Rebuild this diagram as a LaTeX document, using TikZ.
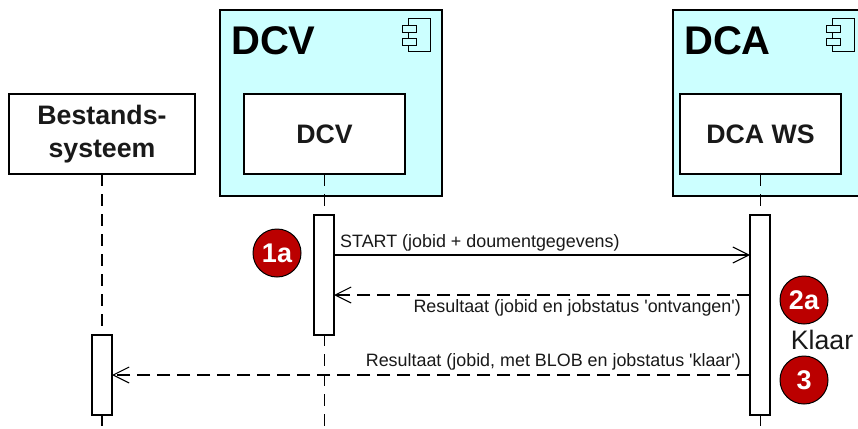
\documentclass[tikz,border=0pt]{standalone}
\usepackage{fontspec}
\setmainfont{Liberation Sans}
\definecolor{compfill}{HTML}{CCFFFF}
\definecolor{badgered}{HTML}{BB0000}
\usetikzlibrary{arrows.meta}
\tikzset{
  x=1pt,y=-1pt,
  comp/.style={draw=black,line width=2.4pt,fill=compfill,minimum width=#1,minimum height=186pt,inner sep=0pt,outer sep=0pt},
  part/.style={draw=black,line width=1.2pt,fill=white,minimum width=#1,minimum height=80pt,inner sep=0pt,outer sep=0pt,align=center,font=\fontsize{26.7}{33}\selectfont\bfseries,text=black!90},
  act/.style={draw=black,line width=1.2pt,fill=white,minimum width=20pt,minimum height=#1,inner sep=0pt,outer sep=0pt},
  lifeline/.style={line width=1.1pt,dash pattern=on 12pt off 8pt},
  msg/.style={line width=1.1pt},
  reply/.style={line width=1.1pt,dash pattern=on 13pt off 7pt},
  head/.style={-{Straight Barb[length=16pt,width=16pt,line width=1.1pt]}},
  title/.style={font=\fontsize{40}{40}\selectfont\bfseries,inner sep=0pt,anchor=base west},
  lbl/.style={font=\fontsize{17.9}{20}\selectfont,inner sep=0pt,text=black!90},
  badge/.style={circle,draw=black,line width=1pt,fill=badgered,minimum size=48pt,inner sep=0pt,text=white,font=\fontsize{27}{27}\selectfont\bfseries},
  iconbox/.style={draw=black,line width=1.9pt,fill=compfill},
}
\newcommand{\compicon}[2]{%
  \draw[iconbox] (#1+6,#2) rectangle (#1+28,#2+33);
  \draw[iconbox] (#1,#2+7) rectangle (#1+14,#2+14);
  \draw[iconbox] (#1,#2+20) rectangle (#1+14,#2+27);
}
\begin{document}
\begin{tikzpicture}
\useasboundingbox (0,0) rectangle (858,428);
\clip (0,0) rectangle (858,428);
\fill[white] (0,0) rectangle (858,428);
% components
\node[comp=222pt] (dcvcomp) at (331,103) {};
\node[comp=240pt] (dcacomp) at (793,103) {};
\node[title] (dcvtitle) at (231,55) {DCV};
\node[title] (dcatitle) at (684,55) {DCA};
\compicon{402.5}{18.5}
\compicon{826.5}{18.5}
% participants
\node[part=161pt] (dcv) at (324.5,134) {DCV};
\node[part=161pt] (dcaws) at (760.5,134) {DCA WS};
\node[part=186pt] (best) at (102,134) {Bestands-\\systeem};
% lifeline ends
\coordinate (dcvend) at (324.5,428);
\coordinate (dcaend) at (760.5,428);
\coordinate (bestend) at (102,428);
\draw[lifeline] (dcv.south) -- (dcvend);
\draw[lifeline] (dcaws.south) -- (dcaend);
\draw[lifeline] (best.south) -- (bestend);
% activations
\node[act=120pt] (dcvact) at (324,275) {};
\node[act=200pt] (dcaact) at (760,315) {};
\node[act=80pt] (bestact) at (102,375) {};
% messages
\coordinate (y1) at (0,255);
\coordinate (y2) at (0,295);
\coordinate (y3) at (0,375);
\draw[msg,head] (dcvact.east |- y1) -- (dcaact.west |- y1);
\draw[reply,head] (dcaact.west |- y2) -- (dcvact.east |- y2);
\draw[reply,head] (dcaact.west |- y3) -- (bestact.east |- y3);
% labels
\node[lbl,anchor=base west] (m1) at (340,247) {START (jobid + doumentgegevens)};
\node[lbl,anchor=base east] (m2) at (741,312) {Resultaat (jobid en jobstatus \textquotesingle ontvangen\textquotesingle )};
\node[lbl,anchor=base east] (m3) at (741,366) {Resultaat (jobid, met BLOB en jobstatus \textquotesingle klaar\textquotesingle )};
% badges
\node[badge] (b1a) at (277,253) {1a};
\node[badge] (b2a) at (804,300) {2a};
\node[badge] (b3) at (804,380) {3};
\node[font=\fontsize{26.7}{27}\selectfont,inner sep=0pt,text=black!90,anchor=base] (klaar) at (822,349) {Klaar};
\end{tikzpicture}
\end{document}
